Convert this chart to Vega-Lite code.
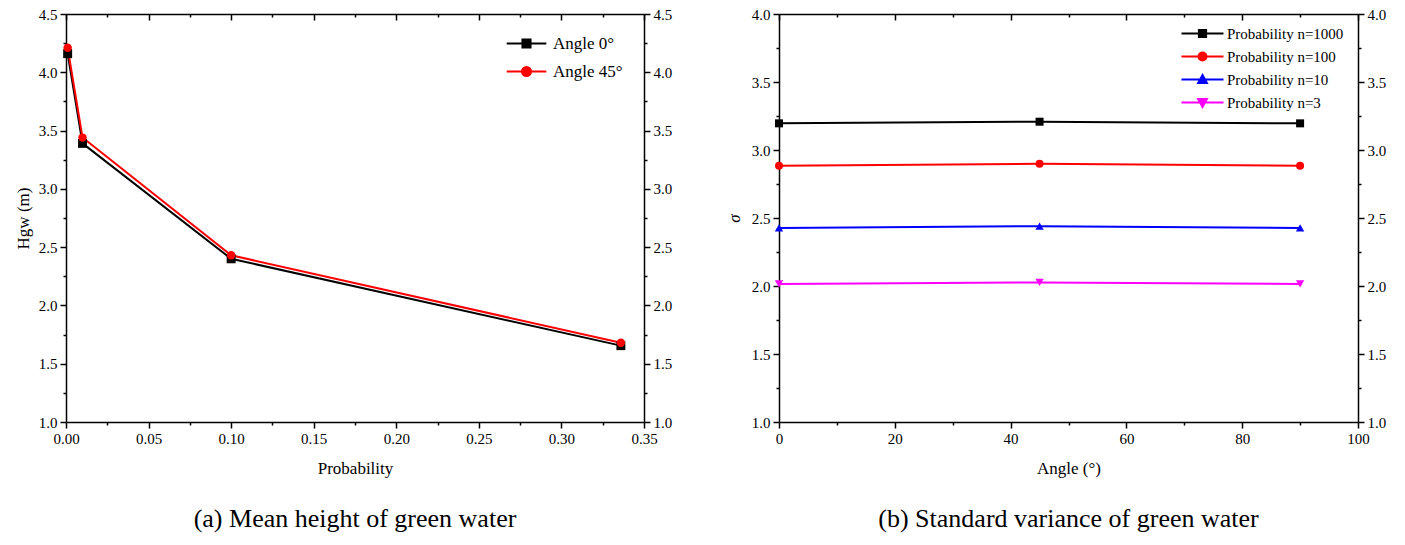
{
  "$schema": "https://vega.github.io/schema/vega-lite/v6.json",
  "background": "white",
  "padding": {"left": 14, "top": 7, "right": 5, "bottom": 5},
  "spacing": 135,
  "bounds": "flush",
  "resolve": {"scale": {"fill": "independent", "stroke": "independent", "shape": "independent"}},
  "config": {
    "font": "Liberation Serif",
    "view": {"stroke": null},
    "axis": {
      "domainColor": "black", "domainWidth": 1.5,
      "tickColor": "black", "tickWidth": 1.5,
      "labelColor": "black", "titleColor": "black",
      "labelFontSize": 15, "titleFontSize": 17, "titleFontWeight": "normal",
      "labelFont": "Liberation Serif", "titleFont": "Liberation Serif",
      "grid": false, "labelOverlap": false, "labelFlush": false, "labelPadding": 3
    },
    "legend": {"labelFont": "Liberation Serif", "labelColor": "black"}
  },
  "hconcat": [
    {
      "width": 578, "height": 408,
      "title": {"text": "(a) Mean height of green water", "orient": "bottom", "fontSize": 26, "font": "Liberation Serif", "fontWeight": "normal", "color": "black", "offset": 30},
      "data": {"values": [
        {"p": 0.001, "h": 4.16, "s": "Angle 0°"},
        {"p": 0.01, "h": 3.39, "s": "Angle 0°"},
        {"p": 0.1, "h": 2.40, "s": "Angle 0°"},
        {"p": 0.336, "h": 1.655, "s": "Angle 0°"},
        {"p": 0.001, "h": 4.21, "s": "Angle 45°"},
        {"p": 0.01, "h": 3.44, "s": "Angle 45°"},
        {"p": 0.1, "h": 2.43, "s": "Angle 45°"},
        {"p": 0.336, "h": 1.68, "s": "Angle 45°"}
      ]},
      "layer": [
        {
          "mark": {"type": "line", "strokeWidth": 2},
          "encoding": {
            "x": {"field": "p", "type": "quantitative", "scale": {"domain": [0, 0.35], "nice": false, "zero": false},
              "axis": {"orient": "bottom", "title": "Probability", "titlePadding": 14,
                "values": [0,0.025,0.05,0.075,0.1,0.125,0.15,0.175,0.2,0.225,0.25,0.275,0.3,0.325,0.35],
                "labelExpr": "abs(datum.value*20-round(datum.value*20))<1e-6 ? format(datum.value,'.2f') : ''",
                "tickSize": {"condition": {"test": "abs(datum.value*20-round(datum.value*20))<1e-6", "value": 6}, "value": 3}}},
            "y": {"field": "h", "type": "quantitative", "scale": {"domain": [1, 4.5], "nice": false, "zero": false},
              "axis": {"orient": "left", "title": "Hgw (m)", "titlePadding": 6,
                "values": [1,1.25,1.5,1.75,2,2.25,2.5,2.75,3,3.25,3.5,3.75,4,4.25,4.5],
                "labelExpr": "abs(datum.value*2-round(datum.value*2))<1e-6 ? format(datum.value,'.1f') : ''",
                "tickSize": {"condition": {"test": "abs(datum.value*2-round(datum.value*2))<1e-6", "value": 6}, "value": 3}}},
            "stroke": {"field": "s", "type": "nominal", "scale": {"domain": ["Angle 0°", "Angle 45°"], "range": ["black", "red"]},
              "legend": {"title": null, "orient": "none", "legendX": 452, "legendY": 21, "padding": 0, "symbolSize": 81, "symbolOpacity": 1, "symbolStrokeWidth": 2, "labelOffset": 18, "rowPadding": 10, "labelFontSize": 17}}
          }
        },
        {
          "transform": [{"filter": {"field": "s", "equal": "Angle 0°"}}],
          "mark": {"type": "point", "shape": "square", "filled": true, "color": "black", "size": 80, "opacity": 1},
          "encoding": {
            "x": {"field": "p", "type": "quantitative",
              "axis": {"orient": "top", "title": null, "labels": false,
                "values": [0,0.025,0.05,0.075,0.1,0.125,0.15,0.175,0.2,0.225,0.25,0.275,0.3,0.325,0.35],
                "tickSize": {"condition": {"test": "abs(datum.value*20-round(datum.value*20))<1e-6", "value": -6}, "value": -3}}},
            "y": {"field": "h", "type": "quantitative",
              "axis": {"orient": "right", "title": null,
                "values": [1,1.25,1.5,1.75,2,2.25,2.5,2.75,3,3.25,3.5,3.75,4,4.25,4.5],
                "labelExpr": "abs(datum.value*2-round(datum.value*2))<1e-6 ? format(datum.value,'.1f') : ''",
                "tickSize": {"condition": {"test": "abs(datum.value*2-round(datum.value*2))<1e-6", "value": 6}, "value": 3}}}
          }
        },
        {
          "transform": [{"filter": {"field": "s", "equal": "Angle 45°"}}],
          "mark": {"type": "point", "shape": "circle", "filled": true, "color": "red", "size": 70, "opacity": 1},
          "encoding": {
            "x": {"field": "p", "type": "quantitative", "axis": null},
            "y": {"field": "h", "type": "quantitative", "axis": null}
          }
        },
        {
          "mark": {"type": "point", "filled": true, "opacity": 0},
          "encoding": {
            "x": {"field": "p", "type": "quantitative", "axis": null},
            "y": {"field": "h", "type": "quantitative", "axis": null},
            "fill": {"field": "s", "type": "nominal", "scale": {"domain": ["Angle 0°", "Angle 45°"], "range": ["black", "red"]},
              "legend": {"title": null, "orient": "none", "legendX": 452, "legendY": 21, "padding": 0, "symbolSize": 81, "symbolOpacity": 1, "symbolStrokeWidth": 2, "labelOffset": 18, "rowPadding": 10, "labelFontSize": 17}},
            "stroke": {"field": "s", "type": "nominal",
              "legend": {"title": null, "orient": "none", "legendX": 452, "legendY": 21, "padding": 0, "symbolSize": 81, "symbolOpacity": 1, "symbolStrokeWidth": 2, "labelOffset": 18, "rowPadding": 10, "labelFontSize": 17}},
            "shape": {"field": "s", "type": "nominal", "scale": {"domain": ["Angle 0°", "Angle 45°"], "range": ["M-4.4,0H4.4M-0.9,-0.9H0.9V0.9H-0.9Z", "M-4.4,0H4.4M1,0A1,1,0,1,1,-1,0A1,1,0,1,1,1,0Z"]},
              "legend": {"title": null, "orient": "none", "legendX": 452, "legendY": 21, "padding": 0, "symbolSize": 81, "symbolOpacity": 1, "symbolStrokeWidth": 2, "labelOffset": 18, "rowPadding": 10, "labelFontSize": 17}}
          }
        }
      ],
      "resolve": {"axis": {"x": "independent", "y": "independent"}}
    },
    {
      "width": 579, "height": 408,
      "title": {"text": "(b) Standard variance of green water", "orient": "bottom", "fontSize": 26, "font": "Liberation Serif", "fontWeight": "normal", "color": "black", "offset": 30},
      "data": {"values": [
        {"a": 0, "v": 3.196, "s": "Probability n=1000"},
        {"a": 45, "v": 3.208, "s": "Probability n=1000"},
        {"a": 90, "v": 3.196, "s": "Probability n=1000"},
        {"a": 0, "v": 2.885, "s": "Probability n=100"},
        {"a": 45, "v": 2.898, "s": "Probability n=100"},
        {"a": 90, "v": 2.885, "s": "Probability n=100"},
        {"a": 0, "v": 2.427, "s": "Probability n=10"},
        {"a": 45, "v": 2.44, "s": "Probability n=10"},
        {"a": 90, "v": 2.427, "s": "Probability n=10"},
        {"a": 0, "v": 2.015, "s": "Probability n=3"},
        {"a": 45, "v": 2.026, "s": "Probability n=3"},
        {"a": 90, "v": 2.015, "s": "Probability n=3"}
      ]},
      "layer": [
        {
          "mark": {"type": "line", "strokeWidth": 2, "interpolate": "monotone"},
          "encoding": {
            "x": {"field": "a", "type": "quantitative", "scale": {"domain": [0, 100], "nice": false, "zero": false},
              "axis": {"orient": "bottom", "title": "Angle (°)", "titlePadding": 14,
                "values": [0,10,20,30,40,50,60,70,80,90,100],
                "labelExpr": "datum.value % 20 === 0 ? format(datum.value,'d') : ''",
                "tickSize": {"condition": {"test": "datum.value % 20 === 0", "value": 6}, "value": 3}}},
            "y": {"field": "v", "type": "quantitative", "scale": {"domain": [1, 4], "nice": false, "zero": false},
              "axis": {"orient": "left", "title": "σ", "titleFontStyle": "italic", "titlePadding": 8,
                "values": [1,1.25,1.5,1.75,2,2.25,2.5,2.75,3,3.25,3.5,3.75,4],
                "labelExpr": "abs(datum.value*2-round(datum.value*2))<1e-6 ? format(datum.value,'.1f') : ''",
                "tickSize": {"condition": {"test": "abs(datum.value*2-round(datum.value*2))<1e-6", "value": 6}, "value": 3}}},
            "stroke": {"field": "s", "type": "nominal", "scale": {"domain": ["Probability n=1000", "Probability n=100", "Probability n=10", "Probability n=3"], "range": ["black", "red", "blue", "#ff00ff"]},
              "legend": {"title": null, "orient": "none", "legendX": 416, "legendY": 12, "padding": 0, "symbolSize": 64, "symbolOpacity": 1, "symbolStrokeWidth": 2, "labelOffset": 17, "rowPadding": 6, "labelFontSize": 15}}
          }
        },
        {
          "transform": [{"filter": {"field": "s", "equal": "Probability n=1000"}}],
          "mark": {"type": "point", "shape": "square", "filled": true, "color": "black", "size": 64, "opacity": 1},
          "encoding": {
            "x": {"field": "a", "type": "quantitative",
              "axis": {"orient": "top", "title": null, "labels": false,
                "values": [0,10,20,30,40,50,60,70,80,90,100],
                "tickSize": {"condition": {"test": "datum.value % 20 === 0", "value": -6}, "value": -3}}},
            "y": {"field": "v", "type": "quantitative",
              "axis": {"orient": "right", "title": null,
                "values": [1,1.25,1.5,1.75,2,2.25,2.5,2.75,3,3.25,3.5,3.75,4],
                "labelExpr": "abs(datum.value*2-round(datum.value*2))<1e-6 ? format(datum.value,'.1f') : ''",
                "tickSize": {"condition": {"test": "abs(datum.value*2-round(datum.value*2))<1e-6", "value": 6}, "value": 3}}}
          }
        },
        {
          "transform": [{"filter": {"field": "s", "equal": "Probability n=100"}}],
          "mark": {"type": "point", "shape": "circle", "filled": true, "color": "red", "size": 64, "opacity": 1},
          "encoding": {
            "x": {"field": "a", "type": "quantitative", "axis": null},
            "y": {"field": "v", "type": "quantitative", "axis": null}
          }
        },
        {
          "transform": [{"filter": {"field": "s", "equal": "Probability n=10"}}],
          "mark": {"type": "point", "shape": "triangle-up", "filled": true, "color": "blue", "size": 70, "opacity": 1},
          "encoding": {
            "x": {"field": "a", "type": "quantitative", "axis": null},
            "y": {"field": "v", "type": "quantitative", "axis": null}
          }
        },
        {
          "transform": [{"filter": {"field": "s", "equal": "Probability n=3"}}],
          "mark": {"type": "point", "shape": "triangle-down", "filled": true, "color": "#ff00ff", "size": 70, "opacity": 1},
          "encoding": {
            "x": {"field": "a", "type": "quantitative", "axis": null},
            "y": {"field": "v", "type": "quantitative", "axis": null}
          }
        },
        {
          "mark": {"type": "point", "filled": true, "opacity": 0},
          "encoding": {
            "x": {"field": "a", "type": "quantitative", "axis": null},
            "y": {"field": "v", "type": "quantitative", "axis": null},
            "fill": {"field": "s", "type": "nominal", "scale": {"domain": ["Probability n=1000", "Probability n=100", "Probability n=10", "Probability n=3"], "range": ["black", "red", "blue", "#ff00ff"]},
              "legend": {"title": null, "orient": "none", "legendX": 416, "legendY": 12, "padding": 0, "symbolSize": 64, "symbolOpacity": 1, "symbolStrokeWidth": 2, "labelOffset": 17, "rowPadding": 6, "labelFontSize": 15}},
            "stroke": {"field": "s", "type": "nominal",
              "legend": {"title": null, "orient": "none", "legendX": 416, "legendY": 12, "padding": 0, "symbolSize": 64, "symbolOpacity": 1, "symbolStrokeWidth": 2, "labelOffset": 17, "rowPadding": 6, "labelFontSize": 15}},
            "shape": {"field": "s", "type": "nominal", "scale": {"domain": ["Probability n=1000", "Probability n=100", "Probability n=10", "Probability n=3"], "range": ["M-5.25,0H5.25M-0.9,-0.9H0.9V0.9H-0.9Z", "M-5.25,0H5.25M1,0A1,1,0,1,1,-1,0A1,1,0,1,1,1,0Z", "M-5.25,0H5.25M0,-1.1L1.1,0.9L-1.1,0.9Z", "M-5.25,0H5.25M0,1.1L1.1,-0.9L-1.1,-0.9Z"]},
              "legend": {"title": null, "orient": "none", "legendX": 416, "legendY": 12, "padding": 0, "symbolSize": 64, "symbolOpacity": 1, "symbolStrokeWidth": 2, "labelOffset": 17, "rowPadding": 6, "labelFontSize": 15}}
          }
        }
      ],
      "resolve": {"axis": {"x": "independent", "y": "independent"}}
    }
  ]
}
